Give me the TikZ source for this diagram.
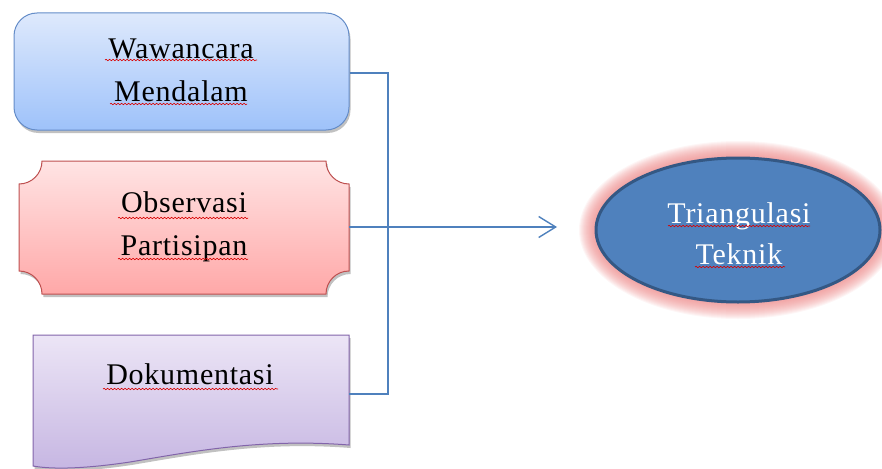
\documentclass[tikz,border=0pt]{standalone}
\usepackage{fontspec}
\setmainfont[LetterSpace=2.5]{Liberation Serif}
\usetikzlibrary{arrows.meta,shadows,decorations.pathmorphing,shapes.geometric}
\definecolor{conncol}{RGB}{79,129,189}
\definecolor{ellfill}{RGB}{79,129,189}
\definecolor{elldraw}{RGB}{52,88,132}
\definecolor{glowcol}{RGB}{236,130,130}
\definecolor{bluetop}{RGB}{222,233,252}
\definecolor{bluebot}{RGB}{158,194,250}
\definecolor{blueline}{RGB}{100,140,200}
\definecolor{redtop}{RGB}{255,228,228}
\definecolor{redbot}{RGB}{255,168,168}
\definecolor{redline}{RGB}{190,80,80}
\definecolor{purtop}{RGB}{236,229,246}
\definecolor{purbot}{RGB}{198,182,226}
\definecolor{purline}{RGB}{130,100,170}
\tikzset{
  conn/.style={draw=conncol, line width=1.4pt},
  lbl/.style={font=\fontsize{30}{43}\selectfont, align=center, text=black, inner sep=0pt},
  wlbl/.style={font=\fontsize{30}{41}\selectfont, align=center, text=white, inner sep=0pt},
  squig/.style={draw=red!85!black, line width=0.6pt, decorate, decoration={snake, amplitude=0.7pt, segment length=3.5pt}},
  shd/.style={drop shadow={shadow xshift=1.5pt, shadow yshift=-3pt, opacity=0.35, fill=black!70}},
}
\begin{document}
\begin{tikzpicture}[x=1pt,y=-1pt]
\useasboundingbox (0,0) rectangle (882,468);
% Box 1: rounded rectangle
\node[shd, draw=blueline, line width=1pt, rounded corners=23pt, top color=bluetop, bottom color=bluebot,
      minimum width=335pt, minimum height=117pt, inner sep=0pt] (b1) at (181.5,71.5) {};
% Box 2: plaque
\def\r{23}
\path[shd, draw=redline, line width=1pt, top color=redtop, bottom color=redbot]
  (19+\r,161) -- (349-\r,161)
  .. controls (349-\r,161+0.552*\r) and (349-0.552*\r,161+\r) .. (349,161+\r)
  -- (349,294-\r)
  .. controls (349-0.552*\r,294-\r) and (349-\r,294-0.552*\r) .. (349-\r,294)
  -- (19+\r,294)
  .. controls (19+\r,294-0.552*\r) and (19+0.552*\r,294-\r) .. (19,294-\r)
  -- (19,161+\r)
  .. controls (19+0.552*\r,161+\r) and (19+\r,161+0.552*\r) .. (19+\r,161) -- cycle;
\node[minimum width=330pt, minimum height=133pt, inner sep=0pt] (b2) at (184,227.5) {};
% Box 3: document
\path[shd, draw=purline, line width=1pt, top color=purtop, bottom color=purbot]
  (33,335) -- (349,335) -- (349,445)
  .. controls (260,438) and (190,452) .. (130,462)
  .. controls (90,468) and (55,470) .. (33,466) -- cycle;
\node[minimum width=316pt, minimum height=120pt, inner sep=0pt] (b3) at (191,395) {};
% Ellipse with glow
\foreach \i in {1,...,17} {
  \fill[glowcol, opacity=0.075] (738,230) ellipse ({142+\i} and {72+\i});
}
\node[draw=elldraw, line width=3pt, fill=ellfill, ellipse, minimum width=284pt, minimum height=144pt] (e) at (738,230) {};
% Texts
\node[lbl] (t1) at (181,70) {Wawancara\\Mendalam};
\node[lbl] (t2) at (184,227) {Observasi\\Partisipan};
\node[lbl] (t3) at (190,374) {Dokumentasi};
\node[wlbl] (t4) at (739,234) {Triangulasi\\Teknik};
% spell-check squiggles
\draw[squig] (105,60) -- (257,60);
\draw[squig] (110,104) -- (247,104);
\draw[squig] (118,218) -- (248,218);
\draw[squig] (118,259) -- (248,259);
\draw[squig] (103,389) -- (278,389);
\draw[squig] (668,226) -- (810,226);
\draw[squig] (695,267) -- (785,267);
% Connectors
\coordinate (jx) at (388,73);
\coordinate (tip) at (557,227);
\draw[conn] (b1.east |- jx) -- (jx) |- (b3.east |- 0,394);
\draw[conn, -{Straight Barb[length=17pt, width=21pt, line width=1.4pt]}] (b2.east |- tip) -- (tip);
\end{tikzpicture}
\end{document}
